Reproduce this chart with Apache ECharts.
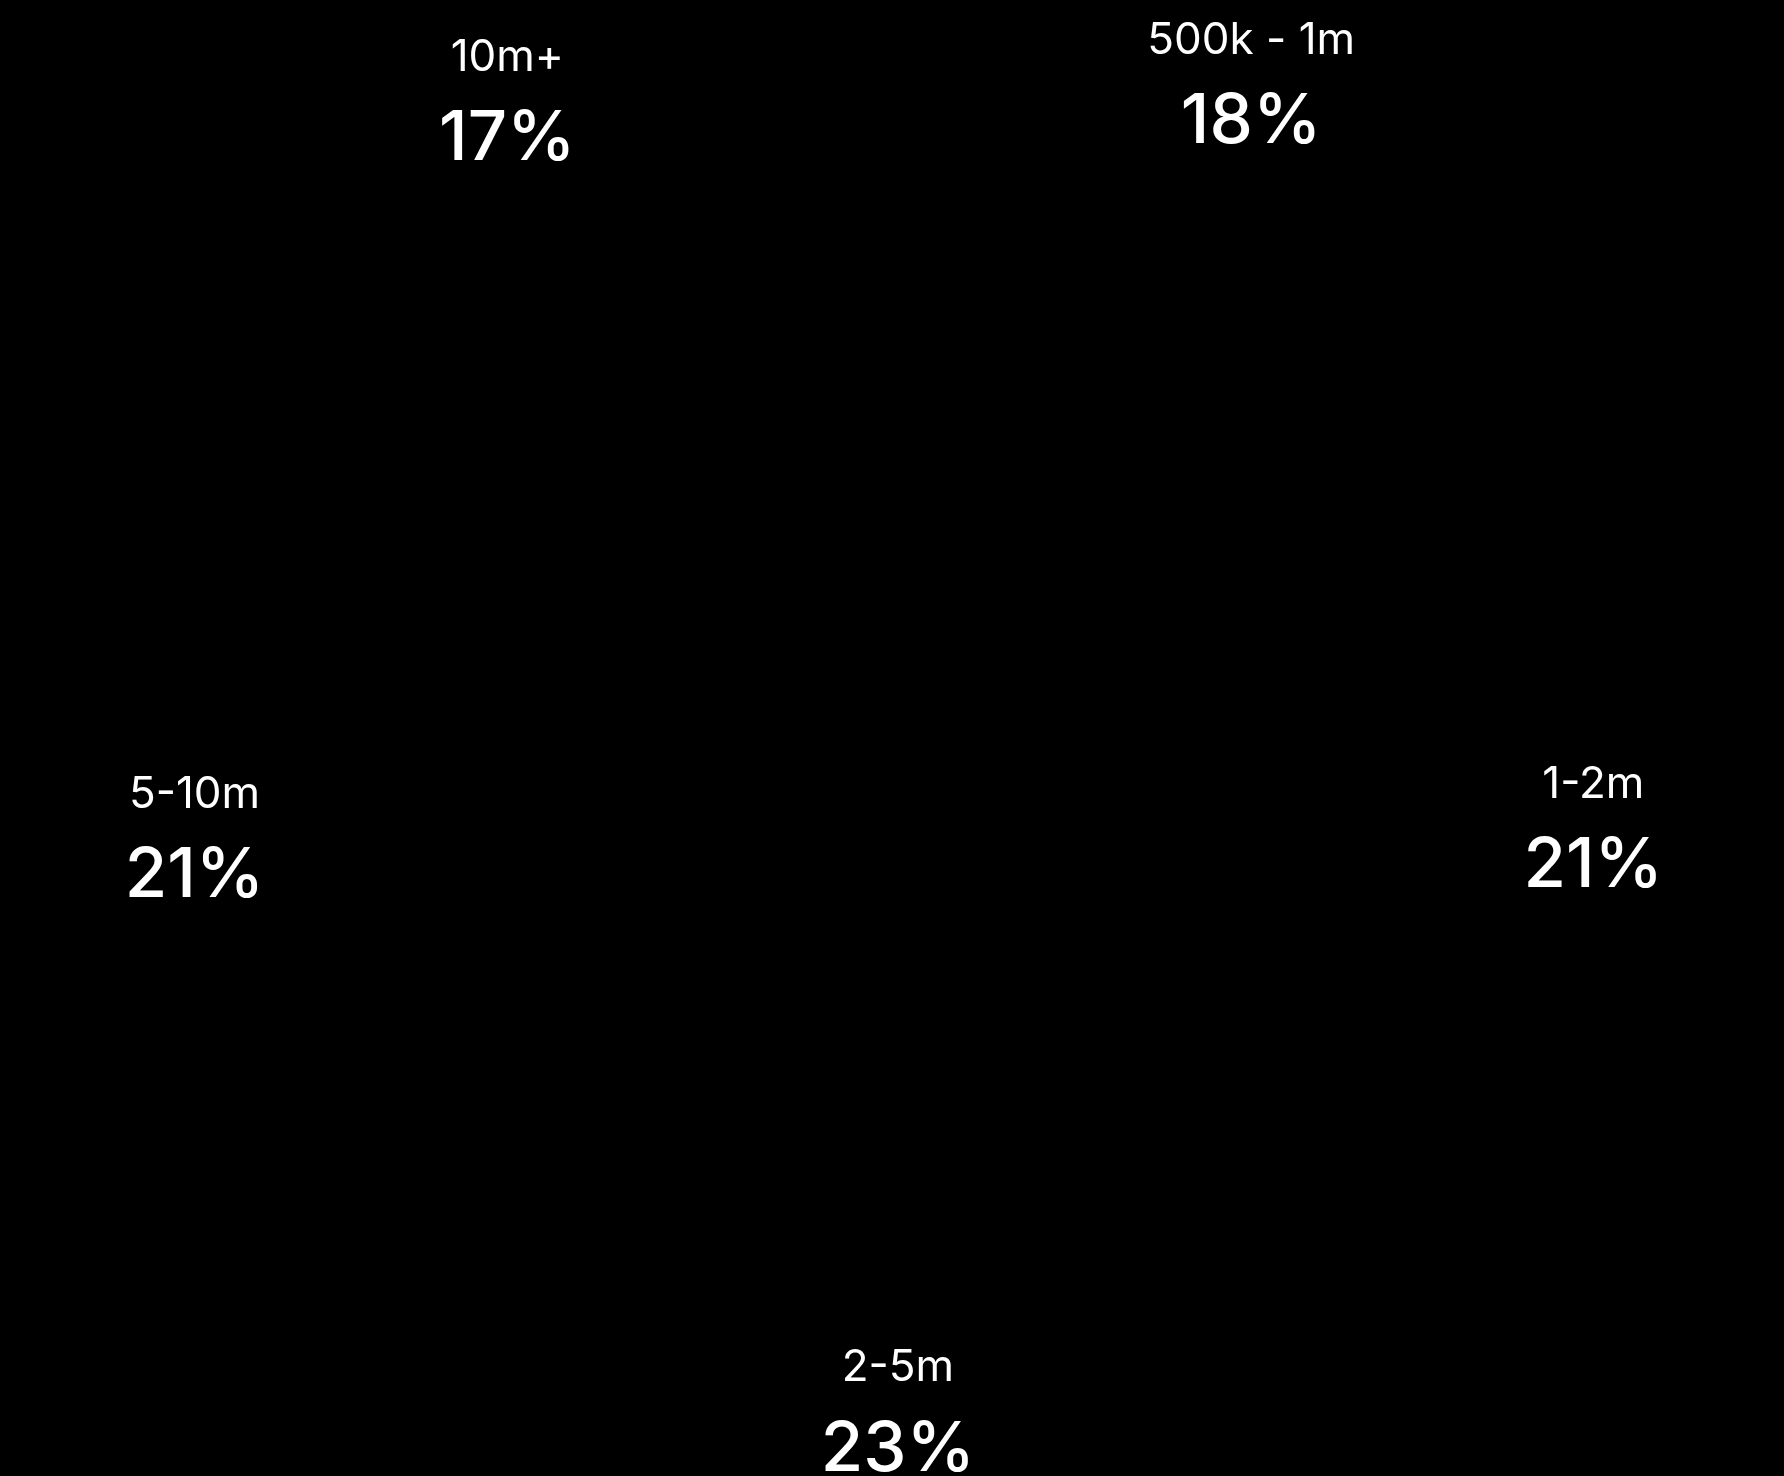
<!DOCTYPE html>
<html>
<head>
<meta charset="utf-8">
<title>Deal size split</title>
<script src="https://cdn.jsdelivr.net/npm/echarts@6/dist/echarts.min.js"></script>
<style>
  html, body { margin: 0; padding: 0; background: #000; }
  #main { width: 1784px; height: 1476px; }
</style>
</head>
<body>
<div id="main"></div>
<script>
// slices, clockwise from the top
const categories = ['500k - 1m', '1-2m', '2-5m', '5-10m', '10m+'];
const shares = [18, 21, 23, 21, 17];

const chart = echarts.init(document.getElementById('main'));

const option = {
  backgroundColor: '#000',
  animation: false,
  series: [{
    type: 'pie',
    silent: true,
    center: [893, 703],
    radius: [693, 725],
    startAngle: 92.2,
    clockwise: true,
    itemStyle: { color: '#000', borderWidth: 0 },
    label: {
      show: true,
      position: 'inside',
      color: '#fff',
      fontFamily: 'Inter',
      formatter: p => '{name|' + p.name + '}\n{pct|' + p.value + '%}',
      rich: {
        name: { fontFamily: 'Inter', fontSize: 44, fontWeight: 400, color: '#fff', lineHeight: 70, align: 'center' },
        pct: { fontFamily: 'Inter', fontSize: 69, fontWeight: 500, color: '#fff', lineHeight: 94, align: 'center' }
      }
    },
    labelLine: { show: false },
    data: categories.map((c, i) => ({ name: c, value: shares[i] }))
  }]
};

chart.setOption(option);
</script>
</body>
</html>
